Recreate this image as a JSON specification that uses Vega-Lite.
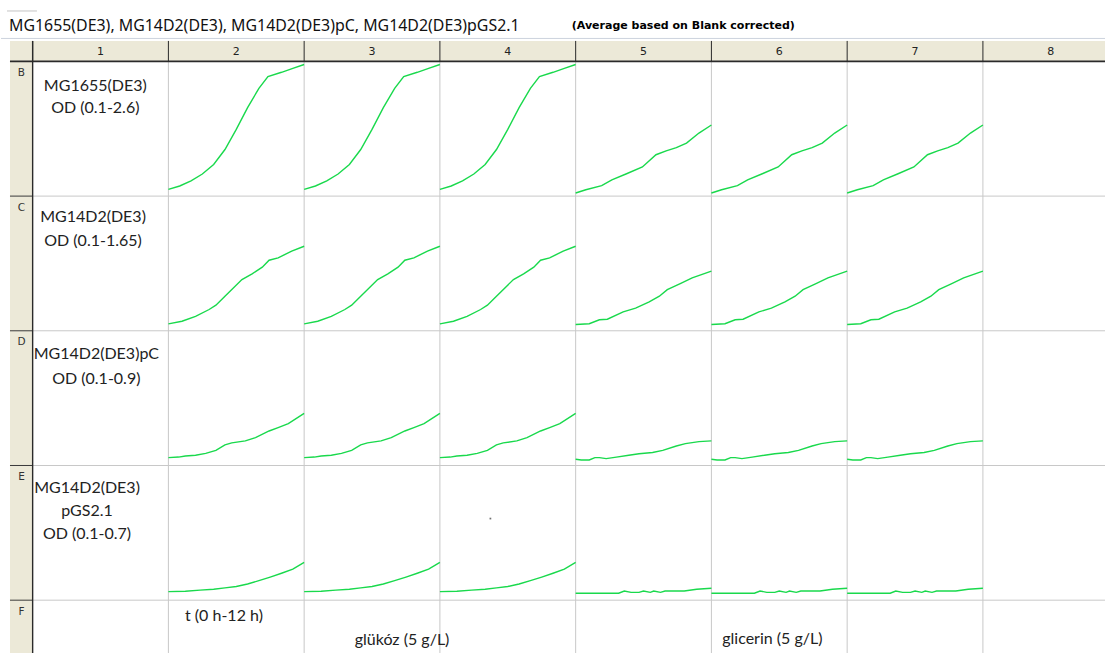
{
  "$schema": "https://vega.github.io/schema/vega-lite/v6.json",
  "width": 1106,
  "height": 654,
  "autosize": {"type": "fit", "contains": "padding"},
  "padding": 0,
  "background": "white",
  "config": {"view": {"stroke": null}, "axis": {"disable": true}},
  "datasets": {
    "cols": [{"col": 1}, {"col": 2}, {"col": 3}, {"col": 4}, {"col": 5}, {"col": 6}, {"col": 7}, {"col": 8}],
    "rows": [{"row": "B"}, {"row": "C"}, {"row": "D"}, {"row": "E"}, {"row": "F"}],
    "labels": [
      {"row": "B", "col": 1, "text": ["MG1655(DE3)", "OD (0.1-2.6)"]},
      {"row": "C", "col": 1, "text": ["MG14D2(DE3)", "OD (0.1-1.65)"]},
      {"row": "D", "col": 1, "text": ["MG14D2(DE3)pC", "OD (0.1-0.9)"]},
      {"row": "E", "col": 1, "text": ["MG14D2(DE3)", "pGS2.1", "OD (0.1-0.7)"]}
    ],
    "notes": [
      {"row": "F", "col": 2, "text": "t (0 h-12 h)"},
      {"row": "F", "col": 3, "text": "glükóz (5 g/L)"},
      {"row": "F", "col": 6, "text": "glicerin (5 g/L)"}
    ],
    "curves": [
      {"row": "B", "col": 2, "odMin": 0.1, "odMax": 2.6, "t": [0,1,2,3,4,5,6,7,8,8.8,10,11,12], "od": [0.225,0.288,0.383,0.51,0.688,0.965,1.338,1.743,2.1,2.318,2.398,2.47,2.543]},
      {"row": "B", "col": 3, "odMin": 0.1, "odMax": 2.6, "t": [0,1,2,3,4,5,6,7,8,8.8,10,11,12], "od": [0.225,0.288,0.383,0.51,0.688,0.965,1.338,1.743,2.1,2.318,2.398,2.47,2.543]},
      {"row": "B", "col": 4, "odMin": 0.1, "odMax": 2.6, "t": [0,1,2,3,4,5,6,7,8,8.8,10,11,12], "od": [0.225,0.288,0.383,0.51,0.688,0.965,1.338,1.743,2.1,2.318,2.398,2.47,2.543]},
      {"row": "B", "col": 5, "odMin": 0.1, "odMax": 2.6, "t": [0,0.9,2.3,3.2,4.5,5.9,7.1,8,8.9,9.8,10.9,12], "od": [0.158,0.218,0.293,0.403,0.515,0.64,0.868,0.94,1.0,1.085,1.27,1.42]},
      {"row": "B", "col": 6, "odMin": 0.1, "odMax": 2.6, "t": [0,0.9,2.3,3.2,4.5,5.9,7.1,8,8.9,9.8,10.9,12], "od": [0.158,0.218,0.293,0.403,0.515,0.64,0.868,0.94,1.0,1.085,1.27,1.42]},
      {"row": "B", "col": 7, "odMin": 0.1, "odMax": 2.6, "t": [0,0.9,2.3,3.2,4.5,5.9,7.1,8,8.9,9.8,10.9,12], "od": [0.158,0.218,0.293,0.403,0.515,0.64,0.868,0.94,1.0,1.085,1.27,1.42]},
      {"row": "C", "col": 2, "odMin": 0.1, "odMax": 1.65, "t": [0,1.2,2.4,3.6,4.2,5,6.5,7.4,8.3,8.9,9.7,10.9,12], "od": [0.18,0.21,0.267,0.345,0.395,0.498,0.69,0.756,0.832,0.912,0.94,1.016,1.073]},
      {"row": "C", "col": 3, "odMin": 0.1, "odMax": 1.65, "t": [0,1.2,2.4,3.6,4.2,5,6.5,7.4,8.3,8.9,9.7,10.9,12], "od": [0.18,0.21,0.267,0.345,0.395,0.498,0.69,0.756,0.832,0.912,0.94,1.016,1.073]},
      {"row": "C", "col": 4, "odMin": 0.1, "odMax": 1.65, "t": [0,1.2,2.4,3.6,4.2,5,6.5,7.4,8.3,8.9,9.7,10.9,12], "od": [0.18,0.21,0.267,0.345,0.395,0.498,0.69,0.756,0.832,0.912,0.94,1.016,1.073]},
      {"row": "C", "col": 5, "odMin": 0.1, "odMax": 1.65, "t": [0,1.2,2.1,2.8,4.2,5.3,6.5,7.4,8.1,9.2,10.3,12], "od": [0.173,0.181,0.227,0.233,0.318,0.36,0.433,0.498,0.574,0.64,0.709,0.787]},
      {"row": "C", "col": 6, "odMin": 0.1, "odMax": 1.65, "t": [0,1.2,2.1,2.8,4.2,5.3,6.5,7.4,8.1,9.2,10.3,12], "od": [0.173,0.181,0.227,0.233,0.318,0.36,0.433,0.498,0.574,0.64,0.709,0.787]},
      {"row": "C", "col": 7, "odMin": 0.1, "odMax": 1.65, "t": [0,1.2,2.1,2.8,4.2,5.3,6.5,7.4,8.1,9.2,10.3,12], "od": [0.173,0.181,0.227,0.233,0.318,0.36,0.433,0.498,0.574,0.64,0.709,0.787]},
      {"row": "D", "col": 2, "odMin": 0.1, "odMax": 0.9, "t": [0,0.9,1.5,2.4,3.3,4.2,5,5.6,6.8,7.7,8.9,9.7,10.6,12], "od": [0.147,0.15,0.156,0.161,0.172,0.19,0.222,0.234,0.246,0.266,0.305,0.325,0.349,0.41]},
      {"row": "D", "col": 3, "odMin": 0.1, "odMax": 0.9, "t": [0,0.9,1.5,2.4,3.3,4.2,5,5.6,6.8,7.7,8.9,9.7,10.6,12], "od": [0.147,0.15,0.156,0.161,0.172,0.19,0.222,0.234,0.246,0.266,0.305,0.325,0.349,0.41]},
      {"row": "D", "col": 4, "odMin": 0.1, "odMax": 0.9, "t": [0,0.9,1.5,2.4,3.3,4.2,5,5.6,6.8,7.7,8.9,9.7,10.6,12], "od": [0.147,0.15,0.156,0.161,0.172,0.19,0.222,0.234,0.246,0.266,0.305,0.325,0.349,0.41]},
      {"row": "D", "col": 5, "odMin": 0.1, "odMax": 0.9, "t": [0,0.5,1.2,1.7,2.1,2.7,3.6,4.7,5.6,6.8,7.7,8.9,9.7,10.9,12], "od": [0.137,0.133,0.133,0.147,0.147,0.141,0.15,0.161,0.17,0.177,0.19,0.216,0.23,0.242,0.246]},
      {"row": "D", "col": 6, "odMin": 0.1, "odMax": 0.9, "t": [0,0.5,1.2,1.7,2.1,2.7,3.6,4.7,5.6,6.8,7.7,8.9,9.7,10.9,12], "od": [0.137,0.133,0.133,0.147,0.147,0.141,0.15,0.161,0.17,0.177,0.19,0.216,0.23,0.242,0.246]},
      {"row": "D", "col": 7, "odMin": 0.1, "odMax": 0.9, "t": [0,0.5,1.2,1.7,2.1,2.7,3.6,4.7,5.6,6.8,7.7,8.9,9.7,10.9,12], "od": [0.137,0.133,0.133,0.147,0.147,0.141,0.15,0.161,0.17,0.177,0.19,0.216,0.23,0.242,0.246]},
      {"row": "E", "col": 2, "odMin": 0.1, "odMax": 0.7, "t": [0,1.5,2.8,4,5,6,7,8,9,10,11,12], "od": [0.138,0.14,0.145,0.149,0.155,0.161,0.172,0.187,0.203,0.22,0.238,0.268]},
      {"row": "E", "col": 3, "odMin": 0.1, "odMax": 0.7, "t": [0,1.5,2.8,4,5,6,7,8,9,10,11,12], "od": [0.138,0.14,0.145,0.149,0.155,0.161,0.172,0.187,0.203,0.22,0.238,0.268]},
      {"row": "E", "col": 4, "odMin": 0.1, "odMax": 0.7, "t": [0,1.5,2.8,4,5,6,7,8,9,10,11,12], "od": [0.138,0.14,0.145,0.149,0.155,0.161,0.172,0.187,0.203,0.22,0.238,0.268]},
      {"row": "E", "col": 5, "odMin": 0.1, "odMax": 0.7, "t": [0,3.8,4.3,4.9,5.6,6,6.6,6.9,7.5,7.9,9.6,10.7,12], "od": [0.131,0.131,0.141,0.135,0.135,0.141,0.135,0.141,0.135,0.141,0.141,0.149,0.153]},
      {"row": "E", "col": 6, "odMin": 0.1, "odMax": 0.7, "t": [0,3.8,4.3,4.9,5.6,6,6.6,6.9,7.5,7.9,9.6,10.7,12], "od": [0.131,0.131,0.141,0.135,0.135,0.141,0.135,0.141,0.135,0.141,0.141,0.149,0.153]},
      {"row": "E", "col": 7, "odMin": 0.1, "odMax": 0.7, "t": [0,3.8,4.3,4.9,5.6,6,6.6,6.9,7.5,7.9,9.6,10.7,12], "od": [0.131,0.131,0.141,0.135,0.135,0.141,0.135,0.141,0.135,0.141,0.141,0.149,0.153]}
    ]
  },
  "layer": [
    {
      "data": {"values": [{}]},
      "mark": {"type": "rect", "fill": "#ECE9D8"},
      "encoding": {
        "x": {"datum": -0.1669, "type": "quantitative", "scale": {"domain": [-0.2331, 7.8993], "nice": false, "zero": false}, "axis": null},
        "x2": {"datum": 7.8993},
        "y": {"datum": -0.152, "type": "quantitative", "scale": {"domain": [-0.4559, 4.3921], "nice": false, "zero": false, "reverse": true}, "axis": null},
        "y2": {"datum": 0}
      }
    },
    {
      "data": {"values": [{}]},
      "mark": {"type": "rect", "fill": "#ECE9D8"},
      "encoding": {
        "x": {"datum": -0.1669, "type": "quantitative", "axis": null},
        "x2": {"datum": 0},
        "y": {"datum": -0.152, "type": "quantitative", "axis": null},
        "y2": {"datum": 4.3921}
      }
    },
    {
      "data": {"values": [{}]},
      "mark": {"type": "rule", "color": "#cdd3dd", "strokeWidth": 1},
      "encoding": {
        "x": {"datum": -0.2331, "type": "quantitative", "axis": null},
        "x2": {"datum": 7.8993},
        "y": {"datum": -0.1705, "type": "quantitative", "axis": null}
      }
    },
    {
      "data": {"values": [{}]},
      "mark": {"type": "rule", "color": "#c4c4c4", "strokeWidth": 1},
      "encoding": {
        "x": {"datum": -0.189, "type": "quantitative", "axis": null},
        "x2": {"datum": 0.0316},
        "y": {"datum": -0.3744, "type": "quantitative", "axis": null}
      }
    },
    {
      "data": {"name": "cols"},
      "transform": [{"filter": "datum.col >= 2"}, {"calculate": "datum.col - 1", "as": "xu"}],
      "mark": {"type": "rule", "color": "#c8c8c8", "strokeWidth": 1},
      "encoding": {
        "x": {"field": "xu", "type": "quantitative", "axis": null},
        "y": {"datum": 0, "type": "quantitative", "axis": null},
        "y2": {"datum": 4.3921}
      }
    },
    {
      "data": {"name": "rows"},
      "transform": [{"filter": "datum.row != 'B'"}, {"calculate": "indexof('BCDEF', datum.row)", "as": "yv"}],
      "mark": {"type": "rule", "color": "#c8c8c8", "strokeWidth": 1},
      "encoding": {
        "x": {"datum": 0, "type": "quantitative", "axis": null},
        "x2": {"datum": 7.8993},
        "y": {"field": "yv", "type": "quantitative", "axis": null}
      }
    },
    {
      "data": {"name": "cols"},
      "transform": [{"calculate": "datum.col - 1", "as": "xu"}],
      "mark": {"type": "rule", "color": "#2a2a2a", "strokeWidth": 1},
      "encoding": {
        "x": {"field": "xu", "type": "quantitative", "axis": null},
        "y": {"datum": -0.152, "type": "quantitative", "axis": null},
        "y2": {"datum": 0}
      }
    },
    {
      "data": {"name": "rows"},
      "transform": [{"filter": "datum.row != 'B'"}, {"calculate": "indexof('BCDEF', datum.row)", "as": "yv"}],
      "mark": {"type": "rule", "color": "#3a3a3a", "strokeWidth": 1},
      "encoding": {
        "x": {"datum": -0.1669, "type": "quantitative", "axis": null},
        "x2": {"datum": 0},
        "y": {"field": "yv", "type": "quantitative", "axis": null}
      }
    },
    {
      "data": {"values": [{}]},
      "mark": {"type": "rule", "color": "#2a2a2a", "strokeWidth": 1.4},
      "encoding": {
        "x": {"datum": 0, "type": "quantitative", "axis": null},
        "y": {"datum": -0.152, "type": "quantitative", "axis": null},
        "y2": {"datum": 4.3921}
      }
    },
    {
      "data": {"values": [{}]},
      "mark": {"type": "rule", "color": "#2a2a2a", "strokeWidth": 1.7},
      "encoding": {
        "x": {"datum": -0.1669, "type": "quantitative", "axis": null},
        "x2": {"datum": 7.8993},
        "y": {"datum": 0, "type": "quantitative", "axis": null}
      }
    },
    {
      "data": {"name": "cols"},
      "transform": [{"calculate": "datum.col - 0.5", "as": "xu"}],
      "mark": {"type": "text", "font": "DejaVu Sans", "fontSize": 11, "color": "#222222", "align": "center", "baseline": "alphabetic"},
      "encoding": {
        "x": {"field": "xu", "type": "quantitative", "axis": null},
        "y": {"datum": -0.0482, "type": "quantitative", "axis": null},
        "text": {"field": "col", "type": "nominal"}
      }
    },
    {
      "data": {"name": "rows"},
      "transform": [{"calculate": "indexof('BCDEF', datum.row)", "as": "yv"}],
      "mark": {"type": "text", "font": "DejaVu Sans", "fontSize": 10.5, "color": "#333333", "align": "center", "baseline": "alphabetic", "dy": 14.5},
      "encoding": {
        "x": {"datum": -0.0824, "type": "quantitative", "axis": null},
        "y": {"field": "yv", "type": "quantitative", "axis": null},
        "text": {"field": "row", "type": "nominal"}
      }
    },
    {
      "data": {"name": "curves"},
      "transform": [
        {"flatten": ["t", "od"]},
        {"calculate": "indexof('BCDEF', datum.row)", "as": "ri"},
        {"calculate": "datum.col - 1 + datum.t / 12", "as": "xu"},
        {"calculate": "datum.ri + 1 - (datum.od - datum.odMin) / (datum.odMax - datum.odMin)", "as": "yv"}
      ],
      "mark": {"type": "line", "color": "#19d94c", "strokeWidth": 1.4},
      "encoding": {
        "x": {"field": "xu", "type": "quantitative", "axis": null},
        "y": {"field": "yv", "type": "quantitative", "axis": null},
        "detail": [{"field": "row", "type": "nominal"}, {"field": "col", "type": "nominal"}],
        "order": {"field": "t", "type": "quantitative"}
      }
    },
    {
      "data": {"name": "labels"},
      "transform": [
        {"filter": "datum.row == 'B'"},
        {"calculate": "indexof('BCDEF', datum.row)", "as": "yv"},
        {"calculate": "datum.col - 0.5", "as": "xu"}
      ],
      "mark": {"type": "text", "font": "Lato", "fontSize": 16, "color": "#222222", "align": "center", "baseline": "alphabetic", "dx": -5.2, "dy": 29.2, "lineHeight": 22.6},
      "encoding": {
        "x": {"field": "xu", "type": "quantitative", "axis": null},
        "y": {"field": "yv", "type": "quantitative", "axis": null},
        "text": {"field": "text", "type": "nominal"}
      }
    },
    {
      "data": {"name": "labels"},
      "transform": [
        {"filter": "datum.row == 'C'"},
        {"calculate": "indexof('BCDEF', datum.row)", "as": "yv"},
        {"calculate": "datum.col - 0.5", "as": "xu"}
      ],
      "mark": {"type": "text", "font": "Lato", "fontSize": 16, "color": "#222222", "align": "center", "baseline": "alphabetic", "dx": -7.5, "dy": 25.9, "lineHeight": 24.4},
      "encoding": {
        "x": {"field": "xu", "type": "quantitative", "axis": null},
        "y": {"field": "yv", "type": "quantitative", "axis": null},
        "text": {"field": "text", "type": "nominal"}
      }
    },
    {
      "data": {"name": "labels"},
      "transform": [
        {"filter": "datum.row == 'D'"},
        {"calculate": "indexof('BCDEF', datum.row)", "as": "yv"},
        {"calculate": "datum.col - 0.5", "as": "xu"}
      ],
      "mark": {"type": "text", "font": "Lato", "fontSize": 16, "color": "#222222", "align": "center", "baseline": "alphabetic", "dx": -4.2, "dy": 28, "lineHeight": 25.7},
      "encoding": {
        "x": {"field": "xu", "type": "quantitative", "axis": null},
        "y": {"field": "yv", "type": "quantitative", "axis": null},
        "text": {"field": "text", "type": "nominal"}
      }
    },
    {
      "data": {"name": "labels"},
      "transform": [
        {"filter": "datum.row == 'E'"},
        {"calculate": "indexof('BCDEF', datum.row)", "as": "yv"},
        {"calculate": "datum.col - 0.5", "as": "xu"}
      ],
      "mark": {"type": "text", "font": "Lato", "fontSize": 16, "color": "#222222", "align": "center", "baseline": "alphabetic", "dx": -13.5, "dy": 27.1, "lineHeight": 23},
      "encoding": {
        "x": {"field": "xu", "type": "quantitative", "axis": null},
        "y": {"field": "yv", "type": "quantitative", "axis": null},
        "text": {"field": "text", "type": "nominal"}
      }
    },
    {
      "data": {"name": "notes"},
      "transform": [
        {"filter": "datum.col == 2"},
        {"calculate": "indexof('BCDEF', datum.row)", "as": "yv"},
        {"calculate": "datum.col - 1", "as": "xu"}
      ],
      "mark": {"type": "text", "font": "Lato", "fontSize": 16, "color": "#222222", "align": "left", "baseline": "alphabetic", "dx": 16.6, "dy": 20.6},
      "encoding": {
        "x": {"field": "xu", "type": "quantitative", "axis": null},
        "y": {"field": "yv", "type": "quantitative", "axis": null},
        "text": {"field": "text", "type": "nominal"}
      }
    },
    {
      "data": {"name": "notes"},
      "transform": [
        {"filter": "datum.col == 3"},
        {"calculate": "indexof('BCDEF', datum.row)", "as": "yv"},
        {"calculate": "datum.col - 1", "as": "xu"}
      ],
      "mark": {"type": "text", "font": "Lato", "fontSize": 16, "color": "#222222", "align": "left", "baseline": "alphabetic", "dx": 50.6, "dy": 45},
      "encoding": {
        "x": {"field": "xu", "type": "quantitative", "axis": null},
        "y": {"field": "yv", "type": "quantitative", "axis": null},
        "text": {"field": "text", "type": "nominal"}
      }
    },
    {
      "data": {"name": "notes"},
      "transform": [
        {"filter": "datum.col == 6"},
        {"calculate": "indexof('BCDEF', datum.row)", "as": "yv"},
        {"calculate": "datum.col - 1", "as": "xu"}
      ],
      "mark": {"type": "text", "font": "Lato", "fontSize": 16, "color": "#222222", "align": "left", "baseline": "alphabetic", "dx": 10.8, "dy": 43.5},
      "encoding": {
        "x": {"field": "xu", "type": "quantitative", "axis": null},
        "y": {"field": "yv", "type": "quantitative", "axis": null},
        "text": {"field": "text", "type": "nominal"}
      }
    },
    {
      "data": {"values": [{"text": "MG1655(DE3), MG14D2(DE3), MG14D2(DE3)pC, MG14D2(DE3)pGS2.1"}]},
      "mark": {"type": "text", "font": "Noto Sans", "fontSize": 15.9, "color": "#111111", "align": "left", "baseline": "alphabetic"},
      "encoding": {
        "x": {"datum": -0.1743, "type": "quantitative", "axis": null},
        "y": {"datum": -0.2261, "type": "quantitative", "axis": null},
        "text": {"field": "text", "type": "nominal"}
      }
    },
    {
      "data": {"values": [{"text": "(Average based on Blank corrected)"}]},
      "mark": {"type": "text", "font": "DejaVu Sans", "fontSize": 11, "fontWeight": "bold", "color": "#000000", "align": "left", "baseline": "alphabetic"},
      "encoding": {
        "x": {"datum": 3.9713, "type": "quantitative", "axis": null},
        "y": {"datum": -0.2372, "type": "quantitative", "axis": null},
        "text": {"field": "text", "type": "nominal"}
      }
    },
    {
      "data": {"values": [{}]},
      "mark": {"type": "square", "color": "#707070", "size": 3, "opacity": 1},
      "encoding": {
        "x": {"datum": 3.372, "type": "quantitative", "axis": null},
        "y": {"datum": 3.394, "type": "quantitative", "axis": null}
      }
    }
  ]
}
